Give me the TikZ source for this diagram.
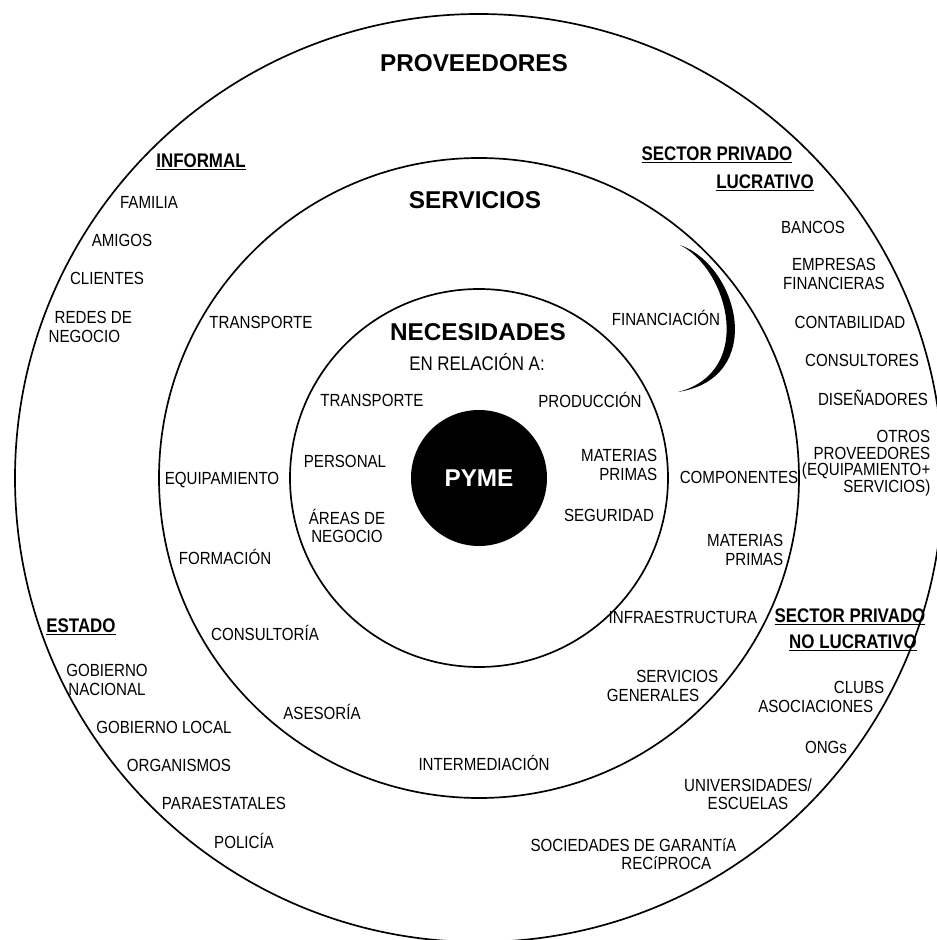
\documentclass[tikz,border=0pt]{standalone}
\usepackage{fontspec}
\setmainfont{Liberation Sans}
\newfontfamily\narrowfont[FakeStretch=0.86]{Liberation Sans}
\usetikzlibrary{positioning}

\begin{document}
\begin{tikzpicture}[every node/.style={inner sep=1pt},
    ring/.style={line width=1.2pt},
    title/.style={font=\bfseries\fontsize{17.3}{20}\selectfont},
    head/.style={font=\narrowfont\bfseries\fontsize{14}{16}\selectfont},
    item/.style={font=\narrowfont\fontsize{12.5}{13}\selectfont, align=center}]
   \useasboundingbox (-11.975,-11.55) rectangle (11.425,11.95);
    % Rings (outer to inner)
    \draw[ring] (0,0) circle (11.6);
    \draw[ring] (0,0) circle (8.0);
    \draw[ring] (0,0) circle (4.725);
    % Core and crescent
    \node[circle, fill=black, minimum size=3.4cm, text=white, title] (pyme) at (0,0) {PYME};
    \fill (5.025,5.825) .. controls (6.5,5.3) and (7.2,2.5) .. (4.975,2.15)
        .. controls (6.9,2.65) and (6.25,5.2) .. (5.025,5.825) -- cycle;

    % Ring titles
    \node[title] (prov) at (-0.125,10.375) {PROVEEDORES};
    \node[title] (serv) at (-0.1,6.95) {SERVICIOS};
    \node[title] (nec) at (-0.025,3.65) {NECESIDADES};
    \node[item, font=\narrowfont\fontsize{14}{16}\selectfont] (rel) at (-0.05,2.9) {EN RELACIÓN A:};

    % Necesidades
    \node[item] (nTrans) at (-2.675,1.95) {TRANSPORTE};
    \node[item] (nProd) at (2.775,1.95) {PRODUCCIÓN};
    \node[item] (nPers) at (-3.35,0.425) {PERSONAL};
    \node[item, align=right, anchor=east] (nMat) at (4.5,0.325) {MATERIAS\\PRIMAS};
    \node[item] (nAreas) at (-3.3,-1.2) {ÁREAS DE\\NEGOCIO};
    \node[item] (nSeg) at (3.25,-0.925) {SEGURIDAD};

    % Servicios
    \node[item] (sTrans) at (-5.45,3.9) {TRANSPORTE};
    \node[item] (sFin) at (4.675,4.0) {FINANCIACIÓN};
    \node[item] (sEquip) at (-6.425,-0.05) {EQUIPAMIENTO};
    \node[item] (sComp) at (6.5,0.025) {COMPONENTES};
    \node[item] (sForm) at (-6.35,-1.975) {FORMACIÓN};
    \node[item, align=right, anchor=east] (sMat) at (7.65,-1.8) {MATERIAS\\PRIMAS};
    \node[item] (sCons) at (-5.35,-3.875) {CONSULTORÍA};
    \node[item] (sInfra) at (5.1,-3.475) {INFRAESTRUCTURA};
    \node[item] (sAses) at (-3.925,-5.85) {ASESORÍA};
    \node[item, align=right, anchor=east] (sServ) at (6.025,-5.2) {SERVICIOS\\GENERALES\hspace*{0.475cm}};
    \node[item] (sInter) at (0.125,-7.125) {INTERMEDIACIÓN};

    % Proveedores: informal
    \node[head] (pInf) at (-6.95,7.9) {\underline{INFORMAL}};
    \node[item] (pFam) at (-8.25,6.9) {FAMILIA};
    \node[item] (pAmi) at (-8.925,5.95) {AMIGOS};
    \node[item] (pCli) at (-9.3,5.0) {CLIENTES};
    \node[item, align=left, anchor=west] (pRed) at (-10.8,3.775) {\hspace*{0.15cm}REDES DE\\NEGOCIO};

    % Proveedores: sector privado lucrativo
    \node[head] (pPriv) at (5.95,8.075) {\underline{SECTOR PRIVADO}};
    \node[head] (pLuc) at (7.15,7.375) {\underline{LUCRATIVO}};
    \node[item] (pBan) at (8.35,6.275) {BANCOS};
    \node[item] (pEmp) at (8.875,5.1) {EMPRESAS\\FINANCIERAS};
    \node[item] (pCont) at (9.275,3.9) {CONTABILIDAD};
    \node[item] (pConsu) at (9.575,2.95) {CONSULTORES};
    \node[item] (pDis) at (9.85,2.0) {DISEÑADORES};
    \node[item, align=right, anchor=east, font=\narrowfont\fontsize{12.5}{11.8}\selectfont] (pOtr) at (11.325,0.375)
        {OTROS\\PROVEEDORES\\(EQUIPAMIENTO+\\SERVICIOS)};

    % Proveedores: estado
    \node[head] (pEst) at (-9.95,-3.725) {\underline{ESTADO}};
    \node[item] (pGobN) at (-9.3,-5.05) {GOBIERNO\\NACIONAL};
    \node[item] (pGobL) at (-7.875,-6.225) {GOBIERNO LOCAL};
    \node[item] (pOrg) at (-7.5,-7.175) {ORGANISMOS};
    \node[item] (pPara) at (-6.375,-8.125) {PARAESTATALES};
    \node[item] (pPol) at (-5.875,-9.075) {POLICÍA};

    % Proveedores: sector privado no lucrativo
    \node[head] (pPriv2) at (9.275,-3.475) {\underline{SECTOR PRIVADO}};
    \node[head] (pNoLuc) at (9.35,-4.125) {\underline{NO LUCRATIVO}};
    \node[item, align=right, anchor=east] (pClub) at (10.175,-5.475) {CLUBS\\ASOCIACIONES\hspace*{0.275cm}};
    \node[item] (pOng) at (8.675,-6.725) {ONGs};
    \node[item] (pUni) at (6.725,-7.9) {UNIVERSIDADES/\\ESCUELAS};
    \node[item, align=right, anchor=east] (pSoc) at (6.475,-9.4) {SOCIEDADES DE GARANTíA\\RECíPROCA\hspace*{0.625cm}};
\end{tikzpicture}
\end{document}
